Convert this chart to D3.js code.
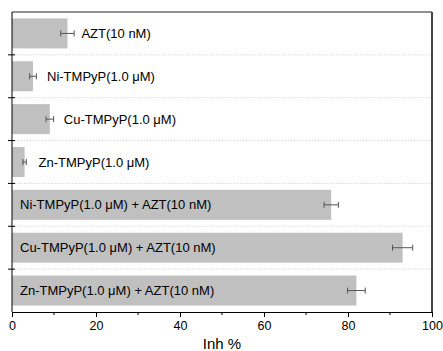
<!DOCTYPE html>
<html>
<head>
<meta charset="utf-8">
<script src="https://cdn.jsdelivr.net/npm/d3@7"></script>
<style>
  body { margin: 0; background: #fff; }
  text { font-family: "Liberation Sans", Arial, sans-serif; }
</style>
</head>
<body>
<svg id="chart" width="443" height="351"></svg>
<script>
// data
const categories = [
  "AZT(10 nM)",
  "Ni-TMPyP(1.0 \u03bcM)",
  "Cu-TMPyP(1.0 \u03bcM)",
  "Zn-TMPyP(1.0 \u03bcM)",
  "Ni-TMPyP(1.0 \u03bcM) + AZT(10 nM)",
  "Cu-TMPyP(1.0 \u03bcM) + AZT(10 nM)",
  "Zn-TMPyP(1.0 \u03bcM) + AZT(10 nM)"
];
const inhValues = [13.2, 5.0, 9.0, 3.0, 76.0, 93.0, 82.0];
const inhErrors = [1.6, 0.8, 0.9, 0.4, 1.7, 2.4, 2.1];
const xTicks = [0, 20, 40, 60, 80, 100];
const xMinorTicks = [10, 30, 50, 70, 90];

const margin = { top: 12, right: 11, bottom: 39, left: 12 };
const width = 443 - margin.left - margin.right;
const height = 351 - margin.top - margin.bottom;

const svg = d3.select("#chart");
const g = svg.append("g")
  .attr("transform", "translate(" + margin.left + "," + margin.top + ")");

const x = d3.scaleLinear().domain([0, 100]).range([0, width]);
const y = d3.scaleBand().domain(categories).range([0, height]).paddingInner(0.3).paddingOuter(0.15);
const gap = (y.step() - y.bandwidth()) / 2;

// dotted separators between rows
g.selectAll(".sep")
  .data(categories.slice(1))
  .enter()
  .append("line")
  .attr("x1", 0)
  .attr("x2", width)
  .attr("y1", d => y(d) - gap)
  .attr("y2", d => y(d) - gap)
  .attr("stroke", "#d8d8d8")
  .attr("stroke-dasharray", "1.5,1.5");

// bars
g.selectAll(".bar")
  .data(categories)
  .enter()
  .append("rect")
  .attr("x", 0)
  .attr("y", d => y(d))
  .attr("width", (d, i) => x(inhValues[i]))
  .attr("height", y.bandwidth())
  .attr("fill", "#c0c0c0");

// error bars
const err = g.selectAll(".err")
  .data(categories)
  .enter()
  .append("g")
  .attr("stroke", "#555")
  .attr("stroke-width", 1);
err.append("line")
  .attr("x1", (d, i) => x(inhValues[i] - inhErrors[i]))
  .attr("x2", (d, i) => x(inhValues[i] + inhErrors[i]))
  .attr("y1", d => y(d) + y.bandwidth() / 2)
  .attr("y2", d => y(d) + y.bandwidth() / 2);
[-1, 1].forEach(s => {
  err.append("line")
    .attr("x1", (d, i) => x(inhValues[i] + s * inhErrors[i]))
    .attr("x2", (d, i) => x(inhValues[i] + s * inhErrors[i]))
    .attr("y1", d => y(d) + y.bandwidth() / 2 - 3)
    .attr("y2", d => y(d) + y.bandwidth() / 2 + 3);
});

// bar labels: single treatments right of the bar, combinations inside
g.selectAll(".lbl")
  .data(categories)
  .enter()
  .append("text")
  .attr("x", (d, i) => inhValues[i] > 50 ? 8 : x(inhValues[i]) + 14)
  .attr("y", d => y(d) + y.bandwidth() / 2)
  .attr("dy", "0.35em")
  .style("font-size", "13px")
  .attr("fill", "#000")
  .text(d => d);

// frame
g.append("line").attr("x1", 0).attr("x2", width).attr("y1", 0).attr("y2", 0)
  .attr("stroke", "#222").attr("stroke-width", 1.2);
g.append("line").attr("x1", width).attr("x2", width).attr("y1", 0).attr("y2", height)
  .attr("stroke", "#444").attr("stroke-width", 2);

// x axis
const xAxis = g.append("g")
  .attr("transform", "translate(0," + height + ")")
  .call(d3.axisBottom(x).tickValues(xTicks).tickSize(5).tickSizeOuter(0).tickPadding(4));
xAxis.select(".domain").attr("stroke", "#000");
xAxis.selectAll("text").style("font-size", "12.5px").attr("fill", "#000");
g.append("g")
  .attr("transform", "translate(0," + height + ")")
  .selectAll("line")
  .data(xMinorTicks)
  .enter()
  .append("line")
  .attr("x1", d => x(d)).attr("x2", d => x(d))
  .attr("y1", 0).attr("y2", 3)
  .attr("stroke", "#000");

// y axis: line + ticks at row boundaries
g.append("line").attr("x1", 0).attr("x2", 0).attr("y1", 0).attr("y2", height)
  .attr("stroke", "#000");
g.selectAll(".ytick")
  .data(categories.slice(1))
  .enter()
  .append("line")
  .attr("x1", -4).attr("x2", 3)
  .attr("y1", d => y(d) - gap)
  .attr("y2", d => y(d) - gap)
  .attr("stroke", "#000");

// axis title
svg.append("text")
  .attr("x", margin.left + width / 2)
  .attr("y", 349)
  .attr("text-anchor", "middle")
  .style("font-size", "15px")
  .attr("fill", "#000")
  .text("Inh %");
</script>
</body>
</html>
